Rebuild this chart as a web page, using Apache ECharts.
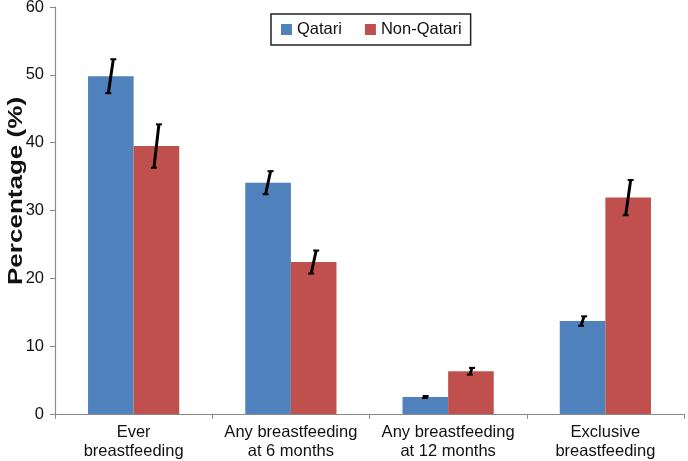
<!DOCTYPE html>
<html><head><meta charset="utf-8">
<script src="https://cdn.jsdelivr.net/npm/echarts@6/dist/echarts.min.js"></script>
<style>html,body{margin:0;padding:0;background:#fff}#c{width:688px;height:461px}</style>
</head><body><div id="c"></div>
<script>
const categories = ['Ever\nbreastfeeding', 'Any breastfeeding\nat 6 months', 'Any breastfeeding\nat 12 months', 'Exclusive\nbreastfeeding'];
const qatari = [49.8, 34.1, 2.5, 13.7];
const nonQatari = [39.5, 22.4, 6.3, 31.9];
const qatariErr = [2.5, 1.7, 0.15, 0.7];
const nonQatariErr = [3.2, 1.7, 0.5, 2.6];
const yTicks = [0, 10, 20, 30, 40, 50, 60];
const yTitle = 'Percentage (%)';

const BW = 0.29;
function errSeries(vals, errs, side) {
  return {
    type: 'custom',
    z: 10,
    silent: true,
    data: vals.map((v, i) => [i, v, errs[i]]),
    renderItem: function (params, api) {
      const i = api.value(0), v = api.value(1), e = api.value(2);
      const band = api.size([1, 0])[0];
      const c = api.coord([i, v]);
      const x = c[0] + side * band * BW / 2;
      const top = api.coord([i, v + e])[1];
      const bot = api.coord([i, v - e])[1];
      const s = Math.min(2.5, (bot - top) / 6);
      return {
        type: 'group',
        children: [
          { type: 'polygon', shape: { points: [[x + s - 1.5, top], [x + s + 1.5, top], [x - s + 1.5, bot], [x - s - 1.5, bot]] }, style: { fill: '#000' } },
          { type: 'line', shape: { x1: x + s - 3, y1: top, x2: x + s + 3, y2: top }, style: { stroke: '#000', lineWidth: 2 } },
          { type: 'line', shape: { x1: x - s - 3, y1: bot, x2: x - s + 3, y2: bot }, style: { stroke: '#000', lineWidth: 2 } }
        ]
      };
    }
  };
}

const chart = echarts.init(document.getElementById('c'), null, { renderer: 'canvas' });
chart.setOption({
  animation: false,
  textStyle: { fontFamily: 'Liberation Sans, Arial, sans-serif' },
  grid: { left: 55, right: 4, top: 7, bottom: 47, containLabel: false, outerBoundsMode: 'none' },
  legend: {
    data: ['Qatari', 'Non-Qatari'],
    left: 271, top: 14,
    borderColor: '#222', borderWidth: 1.5,
    padding: [7, 9, 7, 10],
    itemGap: 23,
    itemWidth: 11, itemHeight: 11,
    icon: 'rect',
    textStyle: { fontSize: 16.5, color: '#111', fontFamily: 'Liberation Sans, Arial, sans-serif' }
  },
  graphic: [{
    type: 'text',
    x: 16, y: 191,
    rotation: Math.PI / 2,
    scaleX: 1.24,
    style: { text: yTitle, font: 'bold 21px "Liberation Sans", Arial, sans-serif', fill: '#111', align: 'center', verticalAlign: 'middle' }
  }],
  xAxis: {
    type: 'category',
    data: categories,
    axisLine: { lineStyle: { color: '#8a8a8a', width: 1.2 } },
    axisTick: { show: true, length: 5, lineStyle: { color: '#8a8a8a' } },
    axisLabel: { fontSize: 16.5, color: '#111', lineHeight: 19, margin: 9, interval: 0 }
  },
  yAxis: {
    type: 'value',
    min: yTicks[0], max: yTicks[yTicks.length - 1], interval: 10,
    splitLine: { show: false },
    axisLine: { show: true, lineStyle: { color: '#8a8a8a', width: 1.2 } },
    axisTick: { show: true, length: 5, lineStyle: { color: '#8a8a8a' } },
    axisLabel: { fontSize: 16.5, color: '#111', margin: 11 }
  },
  series: [
    { name: 'Qatari', type: 'bar', data: qatari, barWidth: (BW * 100) + '%', barGap: '0%', itemStyle: { color: '#4F81BD' } },
    { name: 'Non-Qatari', type: 'bar', data: nonQatari, barWidth: (BW * 100) + '%', barGap: '0%', itemStyle: { color: '#C0504D' } },
    errSeries(qatari, qatariErr, -1),
    errSeries(nonQatari, nonQatariErr, 1)
  ]
});
</script></body></html>
